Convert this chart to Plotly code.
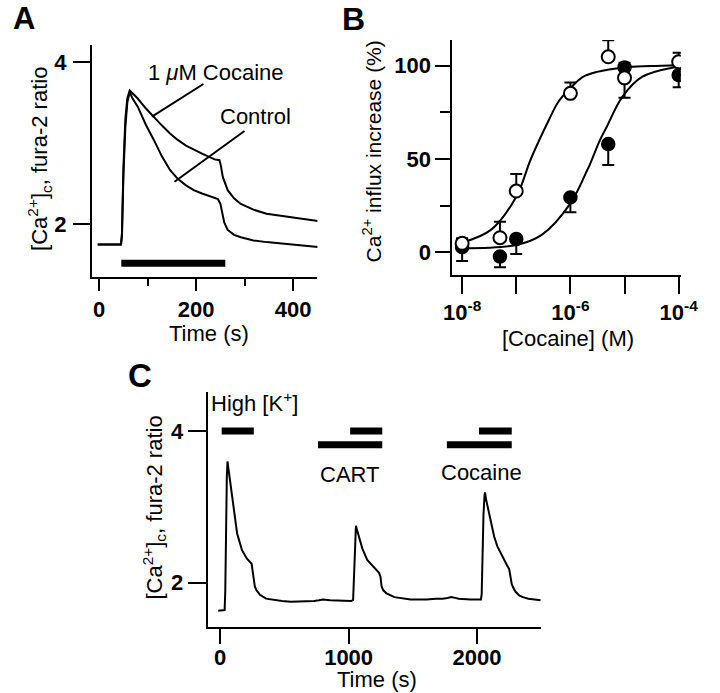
import plotly.graph_objects as go

# ---- Panel A: fura-2 traces (time in s, ratio) ----
a_time_ctrl = [-3, 45, 47, 50, 54, 58, 63, 68, 79.5, 96, 112.7, 129, 146, 162, 179, 195, 212, 230,
               245, 250, 253, 258, 265, 278, 292, 318, 345, 378, 411, 451]
a_ctrl = [1.75, 1.75, 1.85, 2.6, 3.2, 3.5, 3.63, 3.56, 3.45, 3.23, 3.04, 2.84, 2.67, 2.56, 2.48, 2.42,
          2.38, 2.34, 2.31, 2.25, 2.15, 2.02, 1.93, 1.87, 1.84, 1.80, 1.78, 1.76, 1.74, 1.72]
a_time_coc = [-3, 45, 47, 50, 54, 58, 63, 68, 79.5, 96, 112.7, 129, 146, 162, 179, 195, 212, 238,
              248, 251, 255, 265, 278, 292, 318, 345, 378, 411, 451]
a_coc = [1.75, 1.75, 1.9, 2.7, 3.3, 3.55, 3.65, 3.62, 3.55, 3.43, 3.32, 3.22, 3.12, 3.04, 2.97, 2.92,
         2.87, 2.80, 2.79, 2.72, 2.58, 2.42, 2.32, 2.25, 2.18, 2.13, 2.10, 2.07, 2.04]
a_bar_t = [45.6, 260]
a_bar_y = 1.52

# ---- Panel B: dose response ----
conc = [1e-8, 5e-8, 1e-7, 1e-6, 5e-6, 1e-5, 1e-4]
open_y = [4.8, 7.8, 32.8, 85.2, 104.8, 93.5, 102.1]
open_err_up = [2.7, 8.6, 9.1, 5.8, 8.9, 0, 4.8]
open_err_dn = [0, 0, 0, 0, 0, 10.7, 0]
filled_y = [2.7, -2.3, 7.1, 29.4, 58.0, 99.1, 95.0]
filled_err_up = [0, 0, 0, 0, 0, 2.5, 0]
filled_err_dn = [7.4, 5.7, 8.0, 8.0, 11.2, 0, 6.6]

fit_open_x = [1e-8, 3.4e-8, 1e-7, 1.86e-7, 4e-7, 6e-7, 1e-6, 1.7e-6, 3.1e-6, 1e-5, 3e-5, 1e-4]
fit_open_y = [5.2, 12.0, 29.8, 50.0, 70.9, 80.7, 88.0, 94.0, 96.7, 99.1, 99.8, 100.3]
fit_fill_x = [1e-8, 1e-7, 2.95e-7, 1e-6, 2.04e-6, 2.2e-6, 3.5e-6, 4.7e-6, 9.1e-6, 2.1e-5, 8.1e-5, 1e-4]
fit_fill_y = [2.1, 3.9, 9.3, 26.2, 44.0, 45.9, 60.0, 67.3, 83.3, 94.0, 99.1, 99.3]

# ---- Panel C: long recording ----
c_time = [-15, 35, 40, 45, 52, 57, 65, 82, 107, 132, 170, 207, 245, 250, 258, 270, 283, 310, 357,
          420, 482, 550, 607, 680, 732, 770, 800, 857, 950, 1020, 1035, 1040, 1045, 1052, 1057, 1065,
          1082, 1107, 1145, 1195, 1237, 1248, 1257, 1270, 1295, 1357, 1420, 1482, 1550, 1607, 1680,
          1732, 1770, 1800, 1830, 1857, 1950, 2030, 2036, 2042, 2050, 2058, 2062, 2070, 2083, 2095,
          2115, 2133, 2158, 2183, 2208, 2233, 2250, 2258, 2270, 2283, 2300, 2330, 2357, 2400, 2450, 2495]
c_ratio = [1.63, 1.64, 1.9, 2.8, 3.4, 3.60, 3.50, 3.27, 2.92, 2.65, 2.43, 2.32, 2.25, 2.18, 2.04, 1.95,
           1.90, 1.84, 1.79, 1.77, 1.76, 1.75, 1.75, 1.75, 1.76, 1.77, 1.78, 1.77, 1.76, 1.76, 1.77,
           2.0, 2.4, 2.7, 2.75, 2.70, 2.61, 2.45, 2.30, 2.21, 2.13, 2.08, 1.95, 1.90, 1.86, 1.81, 1.79,
           1.78, 1.78, 1.78, 1.79, 1.79, 1.80, 1.81, 1.80, 1.79, 1.78, 1.78, 1.85, 2.4, 2.9, 3.15, 3.19,
           3.10, 3.0, 2.90, 2.75, 2.61, 2.48, 2.39, 2.30, 2.23, 2.18, 2.08, 1.98, 1.93, 1.88, 1.83, 1.81,
           1.79, 1.78, 1.77]
c_k_bars = [(12, 262), (1012, 1262), (2015, 2270)]
c_k_y = 4.0
c_drug_bars = [(762, 1262), (1765, 2270)]
c_drug_y = 3.82

W, H = 720, 693
FONT = "Liberation Sans"


def px(x):
    return x / W


def py(y):
    return 1 - y / H


line = dict(color="black", width=2)
fig = go.Figure()

# panel A
fig.add_trace(go.Scatter(x=a_time_ctrl, y=a_ctrl, mode="lines", line=line, xaxis="x", yaxis="y"))
fig.add_trace(go.Scatter(x=a_time_coc, y=a_coc, mode="lines", line=line, xaxis="x", yaxis="y"))
fig.add_trace(go.Scatter(x=a_bar_t, y=[a_bar_y] * 2, mode="lines", line=dict(color="black", width=7),
                         xaxis="x", yaxis="y"))

# panel B
fig.add_trace(go.Scatter(x=fit_open_x, y=fit_open_y, mode="lines", line=line, line_shape="spline",
                         xaxis="x2", yaxis="y2"))
fig.add_trace(go.Scatter(x=fit_fill_x, y=fit_fill_y, mode="lines", line=line, line_shape="spline",
                         xaxis="x2", yaxis="y2"))
fig.add_trace(go.Scatter(
    x=conc, y=filled_y, mode="markers", xaxis="x2", yaxis="y2",
    marker=dict(symbol="circle", size=13, color="black", line=dict(color="black", width=1.5)),
    error_y=dict(type="data", symmetric=False, array=filled_err_up, arrayminus=filled_err_dn,
                 color="black", thickness=2, width=6)))
fig.add_trace(go.Scatter(
    x=conc, y=open_y, mode="markers", xaxis="x2", yaxis="y2",
    marker=dict(symbol="circle", size=13, color="white", line=dict(color="black", width=2)),
    error_y=dict(type="data", symmetric=False, array=open_err_up, arrayminus=open_err_dn,
                 color="black", thickness=2, width=6)))

# panel C
fig.add_trace(go.Scatter(x=c_time, y=c_ratio, mode="lines", line=line, xaxis="x3", yaxis="y3"))
for t0, t1 in c_k_bars:
    fig.add_trace(go.Scatter(x=[t0, t1], y=[c_k_y] * 2, mode="lines",
                             line=dict(color="black", width=7), xaxis="x3", yaxis="y3"))
for t0, t1 in c_drug_bars:
    fig.add_trace(go.Scatter(x=[t0, t1], y=[c_drug_y] * 2, mode="lines",
                             line=dict(color="black", width=7), xaxis="x3", yaxis="y3"))

tickfont = dict(family=FONT, size=22, color="black", weight="bold")
ax = dict(showline=True, linecolor="black", linewidth=2, ticks="outside", tickcolor="black",
          tickwidth=2, showgrid=False, zeroline=False, tickfont=tickfont)

fig.update_layout(
    width=W, height=H, margin=dict(l=0, r=0, t=0, b=0),
    paper_bgcolor="white", plot_bgcolor="white", showlegend=False,
    font=dict(family=FONT, size=22, color="black"),
    xaxis=dict(ax, domain=[px(86), px(320)], range=[-15, 450], tickvals=[0, 200, 400], ticklen=12,
               minor=dict(tickvals=[100, 300], ticklen=7, tickwidth=2, tickcolor="black",
                          ticks="outside"),
               anchor="y", ticklabelstandoff=0),
    yaxis=dict(ax, domain=[py(277), py(45)], range=[1.35, 4.21], tickvals=[2, 4], ticklen=17,
               anchor="x", ticklabelstandoff=2),
    xaxis2=dict(ax, domain=[px(460), px(697)], type="log", range=[-8.18, -3.96],
                tickvals=[1e-8, 1e-7, 1e-6, 1e-5, 1e-4],
                ticktext=["10<sup>-8</sup>", "", "10<sup>-6</sup>", "", "10<sup>-4</sup>"],
                ticklen=17, anchor="y2", ticklabelstandoff=0),
    yaxis2=dict(ax, domain=[py(275), py(40)], range=[-12.2, 113.8], tickvals=[0, 50, 100],
                ticklen=15, minor=dict(tickvals=[25, 75], ticklen=10, tickwidth=2,
                                       tickcolor="black", ticks="outside"),
                anchor="x2", ticklabelstandoff=0),
    xaxis3=dict(ax, domain=[px(206), px(551.7)], range=[-98, 2496], tickvals=[0, 1000, 2000],
                ticklen=15, anchor="y3", ticklabelstandoff=-5),
    yaxis3=dict(ax, domain=[py(626.7), py(391.7)], range=[1.42, 4.52], tickvals=[2, 4],
                ticklen=18, anchor="x3", ticklabelstandoff=0),
)

ann = [
    # panel letters
    dict(x=px(16), y=py(18), text="<b>A</b>", font=dict(size=31)),
    dict(x=px(357), y=py(19), text="<b>B</b>", font=dict(size=32)),
    dict(x=px(136), y=py(375), text="<b>C</b>", font=dict(size=33)),
    # axis titles
    dict(x=px(31), y=py(159), text="[Ca<sup>2+</sup>]<sub>c</sub>, fura-2 ratio", textangle=-90),
    dict(x=px(207), y=py(333), text="Time (s)"),
    dict(x=px(377), y=py(151), text="Ca<sup>2+</sup> influx increase (%)", textangle=-90,
         font=dict(size=21)),
    dict(x=px(580), y=py(338), text="[Cocaine] (M)"),
    dict(x=px(150), y=py(508), text="[Ca<sup>2+</sup>]<sub>c</sub>, fura-2 ratio", textangle=-90),
    dict(x=px(382), y=py(679), text="Time (s)"),
    # labels
    dict(x=px(215), y=py(73), text="1 <i>μ</i>M Cocaine"),
    dict(x=px(256), y=py(117), text="Control"),
    dict(x=px(208), y=py(402), text="High [K<sup>+</sup>]", xanchor="left"),
    dict(x=px(354), y=py(475), text="CART"),
    dict(x=px(490), y=py(472), text="Cocaine"),
]
for a in ann:
    a.setdefault("xanchor", "center")
    a.update(xref="paper", yref="paper", yanchor="middle", showarrow=False)
    fig.add_annotation(**a)

# callout lines in panel A
for x0, y0, x1, y1 in [(201.7, 84, 148.3, 116.7), (244.3, 131, 171.7, 181.7)]:
    fig.add_shape(type="line", xref="paper", yref="paper", x0=px(x0), x1=px(x1), y0=py(y0),
                  y1=py(y1), line=dict(color="black", width=2))

fig.write_html("out.html", config={"displayModeBar": False},
               post_script="document.body.style.margin='0';")
